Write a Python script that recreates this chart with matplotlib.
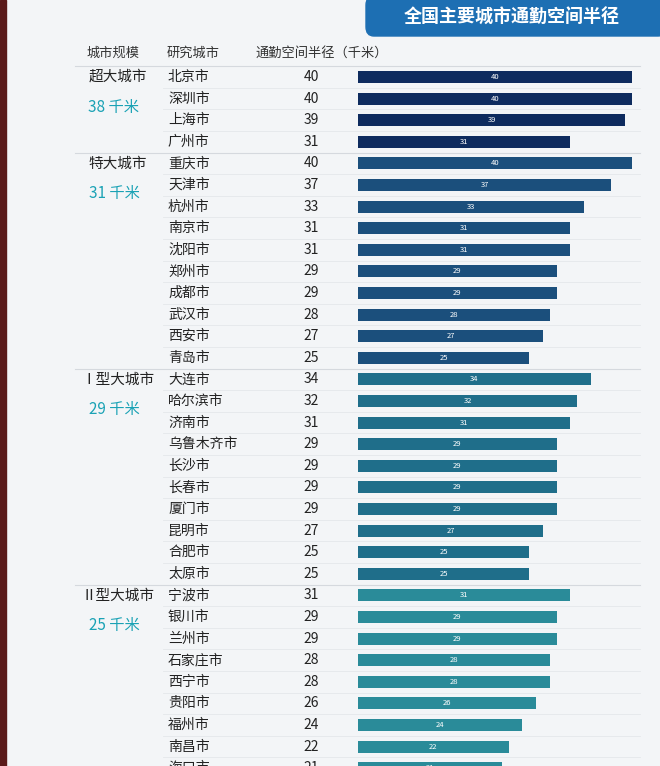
import matplotlib
matplotlib.use("Agg")
import matplotlib.pyplot as plt
import matplotlib.transforms as mtrans
from matplotlib.patches import FancyBboxPatch, Rectangle

plt.rcParams["font.family"] = "Noto Sans CJK SC"

groups = ["超大城市", "特大城市", "Ⅰ型大城市", "Ⅱ型大城市"]
group_avgs = ["38 千米", "31 千米", "29 千米", "25 千米"]
group_colors = ["#0e2b5e", "#1b4f7c", "#1f6e8a", "#2a8b99"]
cities = [
    ["北京市", "深圳市", "上海市", "广州市"],
    ["重庆市", "天津市", "杭州市", "南京市", "沈阳市", "郑州市", "成都市", "武汉市", "西安市", "青岛市"],
    ["大连市", "哈尔滨市", "济南市", "乌鲁木齐市", "长沙市", "长春市", "厦门市", "昆明市", "合肥市", "太原市"],
    ["宁波市", "银川市", "兰州市", "石家庄市", "西宁市", "贵阳市", "福州市", "南昌市", "海口市"],
]
values = [
    [40, 40, 39, 31],
    [40, 37, 33, 31, 31, 29, 29, 28, 27, 25],
    [34, 32, 31, 29, 29, 29, 29, 27, 25, 25],
    [31, 29, 29, 28, 28, 26, 24, 22, 21],
]

W, H = 660, 766
fig = plt.figure(figsize=(W / 100, H / 100), dpi=100)
fig.patch.set_facecolor("#f3f5f7")

row0, step = 77, 21.6
ax = fig.add_axes([358 / W, 0, 300 / W, 1])
ax.set_xlim(0, 300 / 6.85)
ax.set_ylim((H - row0) / step, -row0 / step)
ax.axis("off")

tr = mtrans.blended_transform_factory(fig.transFigure, ax.transData)
fx = lambda p: p / W

# left photo edge
fig.add_artist(Rectangle((0, 0), 6 / W, 1, transform=fig.transFigure, color="#5a1a1a"))

# title box
fig.add_artist(FancyBboxPatch((366 / W, 1 - 36 / H), 300 / W, 40 / H, boxstyle="round,pad=0,rounding_size=0.012",
                              transform=fig.transFigure, color="#1d6fb3"))
fig.text(fx(512), 1 - 17 / H, "全国主要城市通勤空间半径", color="white", fontsize=13, fontweight="bold",
         ha="center", va="center")

hy = 1 - 53 / H
fig.text(fx(113), hy, "城市规模", fontsize=9.5, ha="center", va="center", color="#333333")
fig.text(fx(167), hy, "研究城市", fontsize=9.5, ha="left", va="center", color="#333333")
fig.text(fx(255), hy, "通勤空间半径（千米）", fontsize=9.5, ha="left", va="center", color="#333333")

i = 0
for g, (gname, gavg, col, cs, vs) in enumerate(zip(groups, group_avgs, group_colors, cities, values)):
    start = i
    ax.plot([-283 / 6.85, 282 / 6.85], [i - 0.5, i - 0.5], color="#d5d9de", lw=0.8, clip_on=False)
    for c, v in zip(cs, vs):
        ax.barh(i, v, height=0.55, color=col)
        ax.text(v / 2, i, str(v), color="white", fontsize=5.5, ha="center", va="center")
        ax.text(fx(168), i, c, transform=tr, fontsize=10, ha="left", va="center", color="#222222")
        ax.text(fx(311), i, str(v), transform=tr, fontsize=10, ha="center", va="center", color="#222222")
        if i != start:
            ax.plot([-195 / 6.85, 282 / 6.85], [i - 0.5, i - 0.5], color="#e4e7ea", lw=0.6, clip_on=False)
        i += 1
    ax.text(fx(118), start, gname, transform=tr, fontsize=10.5, ha="center", va="center", color="#222222")
    ax.text(fx(114), start + 1.4, gavg, transform=tr, fontsize=11, ha="center", va="center", color="#1aa2b5")

fig.savefig("out.png", dpi=100, facecolor=fig.get_facecolor())
